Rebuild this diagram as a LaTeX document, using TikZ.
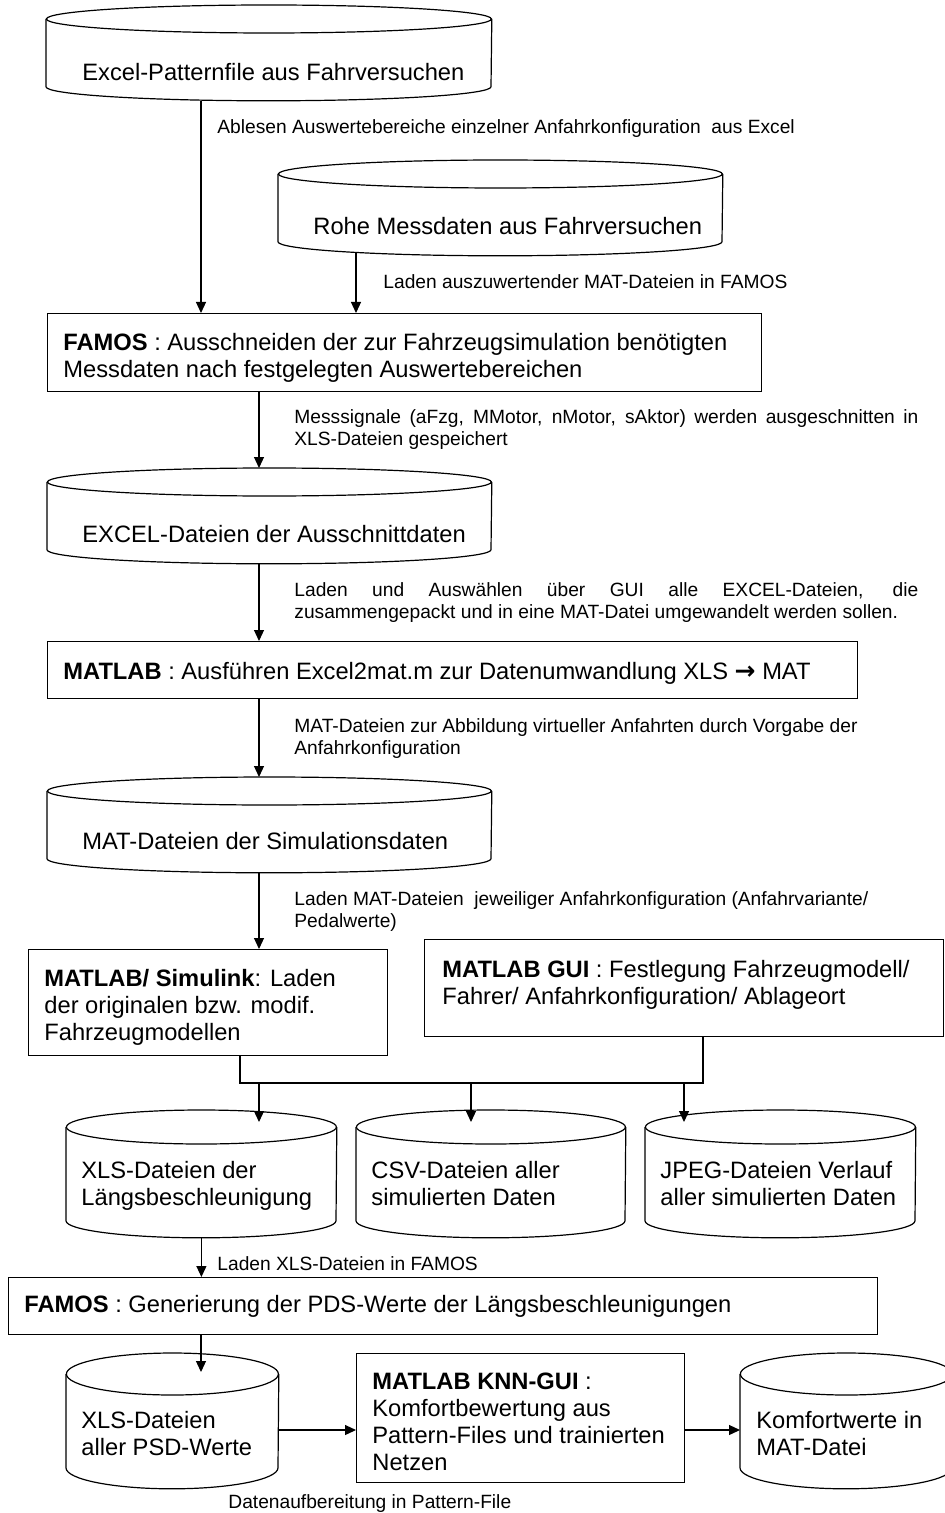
\documentclass[tikz,border=0pt]{standalone}
\usepackage{fontspec}
\setmainfont{Liberation Sans}
\newfontfamily\arrowfont{DejaVu Sans}
\usetikzlibrary{arrows.meta,calc}

\tikzset{
  lin/.style={line width=0.6pt, black},
  arr/.style={lin, -{Triangle[length=5.5pt,width=5pt]}},
  frame/.style={draw, lin, fill=white, rectangle, inner sep=0pt, anchor=north west},
  hole/.style={rectangle, inner sep=0pt, anchor=north west},
  boxtext/.style={inner sep=0pt, anchor=north west, align=left,
    font=\fontsize{11.85pt}{13.5pt}\selectfont},
  labeltext/.style={inner sep=0pt, anchor=north west, align=left,
    font=\fontsize{9.6pt}{11pt}\selectfont},
}

% rectangular process box: name, left, top, width, height (pixel units)
\newcommand{\procbox}[5]{%
  \node[frame, minimum width=#4*0.5pt, minimum height=#5*0.5pt] (#1) at (#2,#3) {};}

% data store drawn as a can: name, left, top, width, height, ellipse half-height
\newcommand{\drawcan}[6]{%
  \node[hole, minimum width=#4*0.5pt, minimum height=#5*0.5pt] (#1) at (#2,#3) {};
  \draw[lin, fill=white] (#1.north west) ++(0,#6) -- ($(#1.south west)+(0,-#6)$)
    arc[start angle=180, end angle=0, x radius=#4/2, y radius=#6]
    -- ($(#1.north east)+(0,#6)$);
  \draw[lin, fill=white] ($(#1.north)+(0,#6)$) ellipse [x radius=#4/2, y radius=#6];}

% conversion arrow used inside the MATLAB step
\newcommand{\convarrow}{{\arrowfont\bfseries\fontsize{12.5pt}{13.5pt}\selectfont →}}

\begin{document}
\begin{tikzpicture}[x=0.5pt,y=-0.5pt]
\useasboundingbox (0,0) rectangle (945,1513);

% ---------- stores and process steps ----------
\drawcan{c1}{46}{5}{445}{95}{14}
\drawcan{c2}{278}{160}{444}{95}{14}
\procbox{f1}{47}{313}{714}{78}
\drawcan{c3}{47}{468}{444}{95}{14}
\procbox{m1}{47}{641}{810}{57}
\drawcan{c4}{47}{777}{444}{95}{14}
\procbox{s1}{28}{949}{359}{106}
\procbox{g1}{424}{939}{519}{97}
\drawcan{ca}{66}{1110}{270}{127}{17}
\drawcan{cb}{356}{1110}{269}{127}{17}
\drawcan{cc}{645}{1110}{270}{127}{17}
\procbox{f2}{8}{1277}{869}{57}
\drawcan{cd}{66}{1353}{212}{135}{21}
\procbox{k1}{356}{1353}{328}{129}
\begin{scope}
  \clip (0,0) rectangle (945,1513);
  \drawcan{ce}{740}{1353}{212}{135}{21}
\end{scope}

% ---------- texts inside shapes ----------
\node[boxtext] (t1) at (82,63) {Excel-Patternfile aus Fahrversuchen};
\node[boxtext] (t2) at (313,217) {Rohe Messdaten aus Fahrversuchen};
\node[boxtext] (t3) at (63,333) {\textbf{FAMOS} : Ausschneiden der zur Fahrzeugsimulation benötigten\\Messdaten nach festgelegten Auswertebereichen};
\node[boxtext] (t4) at (82,525) {EXCEL-Dateien der Ausschnittdaten};
\node[boxtext] (t5) at (63,662) {\textbf{MATLAB} : Ausführen Excel2mat.m zur Datenumwandlung XLS \convarrow{} MAT};
\node[boxtext] (t6) at (82,832) {MAT-Dateien der Simulationsdaten};
\node[boxtext] (t7) at (44,969) {\textbf{MATLAB/ Simulink}: Laden\\der originalen bzw. modif.\\Fahrzeugmodellen};
\node[boxtext] (t8) at (442,960) {\textbf{MATLAB GUI} : Festlegung Fahrzeugmodell/\\Fahrer/ Anfahrkonfiguration/ Ablageort};
\node[boxtext] (t9) at (81,1161) {XLS-Dateien der\\Längsbeschleunigung};
\node[boxtext] (t10) at (371,1161) {CSV-Dateien aller\\simulierten Daten};
\node[boxtext] (t11) at (660,1161) {JPEG-Dateien Verlauf\\aller simulierten Daten};
\node[boxtext] (t12) at (24,1295) {\textbf{FAMOS} : Generierung der PDS-Werte der Längsbeschleunigungen};
\node[boxtext] (t13) at (81,1411) {XLS-Dateien\\aller PSD-Werte};
\node[boxtext] (t14) at (372,1373) {\textbf{MATLAB KNN-GUI} :\\Komfortbewertung aus\\Pattern-Files und trainierten\\Netzen};
\node[boxtext] (t15) at (756,1411) {Komfortwerte in\\MAT-Datei};

% ---------- connector labels ----------
\node[labeltext] (l1) at (217,119) {Ablesen Auswertebereiche einzelner Anfahrkonfiguration\ \ aus Excel};
\node[labeltext] (l2) at (383,274) {Laden auszuwertender MAT-Dateien in FAMOS};
\node[labeltext] (l3) at (294,409) {\makebox[312pt][s]{Messsignale (aFzg, MMotor, nMotor, sAktor) werden ausgeschnitten in}\\XLS-Dateien gespeichert};
\node[labeltext] (l4) at (294,582) {\makebox[312pt][s]{Laden und Auswählen über GUI alle EXCEL-Dateien, die}\\zusammengepackt und in eine MAT-Datei umgewandelt werden sollen.};
\node[labeltext] (l5) at (294,718) {MAT-Dateien zur Abbildung virtueller Anfahrten durch Vorgabe der\\Anfahrkonfiguration};
\node[labeltext] (l6) at (294,891) {Laden MAT-Dateien\ \ jeweiliger Anfahrkonfiguration (Anfahrvariante/\\Pedalwerte)};
\node[labeltext] (l7) at (217,1256) {Laden XLS-Dateien in FAMOS};
\node[labeltext] (l8) at (228,1494) {Datenaufbereitung in Pattern-File};

% ---------- connector guides ----------
\coordinate (xa) at (201,0);
\coordinate (xb) at (356,0);
\coordinate (xc) at (259,0);
\coordinate (j1) at (240,1083);
\coordinate (j2) at (703,1083);
\coordinate (d1) at (259,1083);
\coordinate (d2) at (471,1083);
\coordinate (d3) at (684,1083);
\coordinate (hy) at (0,1430);

% ---------- connectors ----------
\draw[arr] (c1.south -| xa) -- (f1.north -| xa);
\draw[arr] ($(c2.south -| xb)+(0,-3)$) -- (f1.north -| xb);
\draw[arr] (f1.south -| xc) -- (c3.north -| xc);
\draw[arr] (c3.south -| xc) -- (m1.north -| xc);
\draw[arr] (m1.south -| xc) -- (c4.north -| xc);
\draw[arr] (c4.south -| xc) -- (s1.north -| xc);
\draw[lin] (s1.south -| j1) -- (j1) -- (j2) -- (g1.south -| j2);
\draw[arr] (d1) -- ($(ca.north -| d1)+(0,12)$);
\draw[arr] (d2) -- ($(cb.north -| d2)+(0,12)$);
\draw[arr] (d3) -- ($(cc.north -| d3)+(0,12)$);
\draw[arr] (ca.south) -- (f2.north -| ca.south);
\draw[arr] (f2.south -| xa) -- ($(cd.north -| xa)+(0,19)$);
\draw[arr] (cd.east |- hy) -- (k1.west |- hy);
\draw[arr] (k1.east |- hy) -- (ce.west |- hy);
\end{tikzpicture}
\end{document}
